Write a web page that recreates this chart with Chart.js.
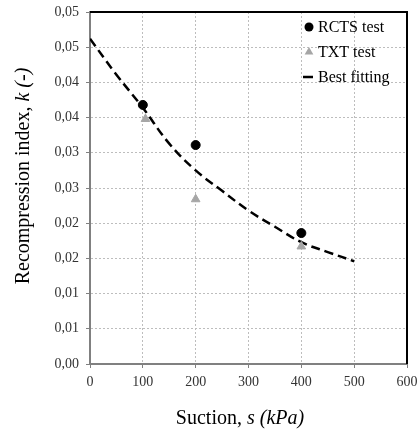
<!DOCTYPE html>
<html>
<head>
<meta charset="utf-8">
<script src="https://cdn.jsdelivr.net/npm/chart.js@4/dist/chart.umd.min.js"></script>
<style>
  body { margin: 0; background: #fff; }
  #wrap { width: 419px; height: 433px; position: relative; }
</style>
</head>
<body>
<div id="wrap"><canvas id="recompression-chart"></canvas></div>
<script>
// values
const rctsSuction = [100, 200, 400];
const rctsK = [0.0368, 0.0311, 0.0186];

const txtSuction = [105, 200, 400];
const txtK = [0.0348, 0.0234, 0.0167];

const fitSuction = [0, 50, 100, 150, 200, 250, 300, 350, 400, 450, 500];
const fitK = [0.0462, 0.0411, 0.0364, 0.0313, 0.0275, 0.0246, 0.0218, 0.0195, 0.0173, 0.0159, 0.0146];

const xTickLabels = ['0', '100', '200', '300', '400', '500', '600'];
const yTickLabels = ['0,00', '0,01', '0,01', '0,02', '0,02', '0,03', '0,03', '0,04', '0,04', '0,05', '0,05'];

const serif = '"Liberation Serif", "Times New Roman", serif';

function toPoints(xs, ys) {
  return xs.map((x, i) => ({ x: x, y: ys[i] }));
}

// draws a run of text pieces, each with its own font, centred on x
function drawParts(ctx, parts, x, y) {
  let total = 0;
  parts.forEach((p) => {
    ctx.font = p.font;
    total += ctx.measureText(p.text).width;
  });
  let cx = x - total / 2;
  parts.forEach((p) => {
    ctx.font = p.font;
    ctx.fillText(p.text, cx, y);
    cx += ctx.measureText(p.text).width;
  });
}

const extras = {
  id: 'extras',
  beforeDatasetsDraw(chart) {
    const { ctx, chartArea: a } = chart;
    ctx.save();
    ctx.strokeStyle = '#000';
    ctx.lineWidth = 2;
    ctx.beginPath();
    ctx.moveTo(a.left, a.top);
    ctx.lineTo(a.right, a.top);
    ctx.lineTo(a.right, a.bottom);
    ctx.stroke();
    ctx.restore();
  },
  afterDraw(chart) {
    const { ctx, chartArea: a } = chart;
    ctx.save();
    ctx.fillStyle = '#000';
    ctx.textBaseline = 'alphabetic';

    // axis titles
    drawParts(ctx, [
      { text: 'Suction, ', font: '20px ' + serif },
      { text: 's (kPa)', font: 'italic 20px ' + serif }
    ], 240, 424);

    ctx.save();
    ctx.translate(29, 176);
    ctx.rotate(-Math.PI / 2);
    drawParts(ctx, [
      { text: 'Recompression index, ', font: '20px ' + serif },
      { text: 'k (-)', font: 'italic 20px ' + serif }
    ], 0, 0);
    ctx.restore();

    // legend
    const mx = a.right - 98;
    const tx = a.right - 89;
    ctx.font = '16px ' + serif;
    ctx.textBaseline = 'middle';
    chart.data.datasets.forEach((ds, i) => {
      const y = a.top + 15 + i * 25;
      if (ds.showLine) {
        ctx.strokeStyle = ds.borderColor;
        ctx.lineWidth = 2.5;
        ctx.beginPath();
        ctx.moveTo(mx - 6, y);
        ctx.lineTo(mx + 4, y);
        ctx.stroke();
      } else {
        ctx.fillStyle = ds.backgroundColor;
        ctx.beginPath();
        if (ds.pointStyle === 'triangle') {
          const r = ds.pointRadius;
          ctx.moveTo(mx, y - r);
          ctx.lineTo(mx + r * 0.87, y + r * 0.5);
          ctx.lineTo(mx - r * 0.87, y + r * 0.5);
        } else {
          ctx.arc(mx, y, ds.pointRadius, 0, Math.PI * 2);
        }
        ctx.closePath();
        ctx.fill();
      }
      ctx.fillStyle = '#000';
      ctx.fillText(ds.label, tx, y + 1);
    });
    ctx.restore();
  }
};

const ctx = document.getElementById('recompression-chart').getContext('2d');
const chart = new Chart(ctx, {
  type: 'scatter',
  data: {
    datasets: [
      {
        label: 'RCTS test',
        data: toPoints(rctsSuction, rctsK),
        pointStyle: 'circle',
        pointRadius: 4.5,
        backgroundColor: '#000',
        borderColor: '#000',
        borderWidth: 1,
        order: 1
      },
      {
        label: 'TXT test',
        data: toPoints(txtSuction, txtK),
        pointStyle: 'triangle',
        pointRadius: 5,
        backgroundColor: '#a6a6a6',
        borderColor: '#a6a6a6',
        borderWidth: 1,
        order: 2
      },
      {
        label: 'Best fitting',
        data: toPoints(fitSuction, fitK),
        showLine: true,
        pointRadius: 0,
        borderColor: '#000',
        backgroundColor: '#000',
        borderWidth: 2.5,
        borderDash: [9, 5],
        tension: 0.4,
        order: 3
      }
    ]
  },
  options: {
    responsive: true,
    maintainAspectRatio: false,
    animation: false,
    layout: { padding: { top: 12, right: 12, left: 0, bottom: 0 } },
    scales: {
      x: {
        type: 'linear',
        min: 0,
        max: 600,
        afterFit: (scale) => {
          scale.height = 69;
          scale.paddingLeft = 0;
          scale.paddingRight = 0;
        },
        ticks: {
          stepSize: 100,
          padding: 6,
          color: '#333',
          font: { family: serif, size: 14 },
          callback: (v) => xTickLabels[Math.round(v / 100)]
        },
        grid: { color: '#bdbdbd', lineWidth: 1, tickColor: '#808080', tickLength: 4 },
        border: { color: '#808080', width: 2, dash: [2, 2] }
      },
      y: {
        type: 'linear',
        min: 0,
        max: 0.05,
        afterFit: (scale) => {
          scale.width = 90;
          scale.paddingTop = 0;
          scale.paddingBottom = 0;
        },
        ticks: {
          stepSize: 0.005,
          padding: 7,
          color: '#333',
          font: { family: serif, size: 14 },
          callback: (v) => yTickLabels[Math.round(v / 0.005)]
        },
        grid: { color: '#bdbdbd', lineWidth: 1, tickColor: '#808080', tickLength: 4 },
        border: { color: '#808080', width: 2, dash: [2, 2] }
      }
    },
    plugins: {
      legend: { display: false },
      tooltip: { enabled: false }
    }
  },
  plugins: [extras]
});
</script>
</body>
</html>
